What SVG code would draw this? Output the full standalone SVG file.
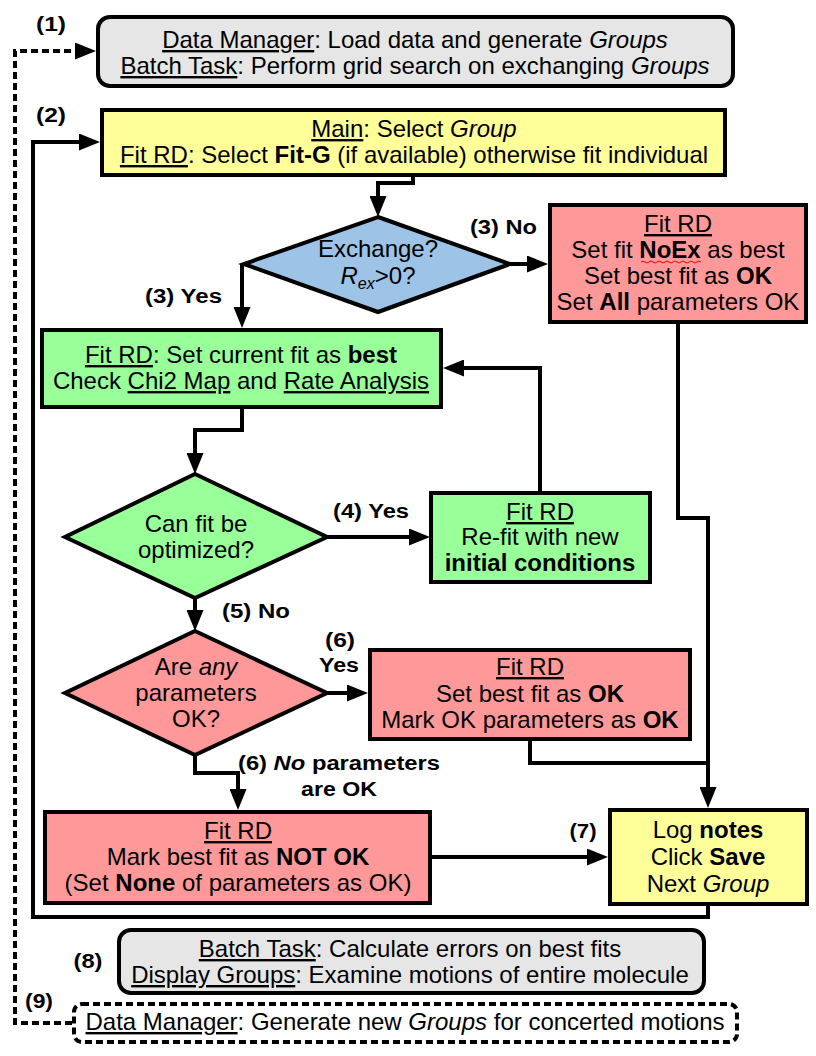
<svg xmlns="http://www.w3.org/2000/svg" width="816" height="1056" viewBox="0 0 816 1056">
<style>
text{font-family:"Liberation Sans",Arial,sans-serif;font-size:24px;fill:#000}
.c{text-anchor:middle}
.lbl{font-weight:bold;font-size:20px}
.u{text-decoration:underline}
.b{font-weight:bold}
.i{font-style:italic}
.box{stroke:#000;stroke-width:4}
.gray{fill:#e6e6e6}
.yel{fill:#ffff99}
.blue{fill:#9dc3e6}
.grn{fill:#99ff99}
.red{fill:#ff9999}
.ln{fill:none;stroke:#000;stroke-width:4;stroke-linejoin:miter}
.dash{stroke-dasharray:7,4}
</style>
<defs>
<marker id="ah" markerUnits="userSpaceOnUse" markerWidth="21" markerHeight="17" refX="15" refY="8.5" orient="auto">
<path d="M0,0 L21,8.5 L0,17 z" fill="#000"/>
</marker>
</defs>
<rect width="816" height="1056" fill="#fff"/>

<g id="connectors">
<path class="ln dash" d="M72,1023 L15,1023 L15,51 L90,51" marker-end="url(#ah)"/>
<path class="ln" d="M708,906 L708,917 L33,917 L33,142 L94,142" marker-end="url(#ah)"/>
<path class="ln" d="M413,177 L413,183 L378,183 L378,211" marker-end="url(#ah)"/>
<path class="ln" d="M242,264 L242,322" marker-end="url(#ah)"/>
<path class="ln" d="M510,264 L542,264" marker-end="url(#ah)"/>
<path class="ln" d="M678,324 L678,518 L708,518 L708,802" marker-end="url(#ah)"/>
<path class="ln" d="M242,409 L242,430 L195,430 L195,468" marker-end="url(#ah)"/>
<path class="ln" d="M327,537 L424,537" marker-end="url(#ah)"/>
<path class="ln" d="M540,491 L540,368 L449,368" marker-end="url(#ah)"/>
<path class="ln" d="M195,598 L195,625" marker-end="url(#ah)"/>
<path class="ln" d="M327,693 L362,693" marker-end="url(#ah)"/>
<path class="ln" d="M530,740 L530,763 L708,763"/>
<path class="ln" d="M195,755 L195,773 L238,773 L238,804" marker-end="url(#ah)"/>
<path class="ln" d="M432,857 L602,857" marker-end="url(#ah)"/>
</g>

<g id="labels">
<text class="lbl c" x="51" y="31" textLength="30" lengthAdjust="spacingAndGlyphs">(1)</text>
<text class="lbl c" x="51" y="122" textLength="30" lengthAdjust="spacingAndGlyphs">(2)</text>
<text class="lbl" x="470" y="234" textLength="67" lengthAdjust="spacingAndGlyphs">(3) No</text>
<text class="lbl" x="145" y="303" textLength="77" lengthAdjust="spacingAndGlyphs">(3) Yes</text>
<text class="lbl" x="333" y="518" textLength="76" lengthAdjust="spacingAndGlyphs">(4) Yes</text>
<text class="lbl" x="222" y="618" textLength="68" lengthAdjust="spacingAndGlyphs">(5) No</text>
<text class="lbl c" x="340" y="647" textLength="30" lengthAdjust="spacingAndGlyphs">(6)</text>
<text class="lbl c" x="339" y="672" textLength="40" lengthAdjust="spacingAndGlyphs">Yes</text>
<text class="lbl" x="238" y="770" textLength="202" lengthAdjust="spacingAndGlyphs">(6) <tspan class="i">No</tspan> parameters</text>
<text class="lbl c" x="339" y="796" textLength="76" lengthAdjust="spacingAndGlyphs">are OK</text>
<text class="lbl c" x="583" y="838" textLength="27" lengthAdjust="spacingAndGlyphs">(7)</text>
<text class="lbl c" x="88" y="968" textLength="29" lengthAdjust="spacingAndGlyphs">(8)</text>
<text class="lbl c" x="39" y="1008" textLength="28" lengthAdjust="spacingAndGlyphs">(9)</text>
</g>

<g id="n1">
<rect class="box gray" x="98" y="17" width="635" height="69" rx="12"/>
<text class="c" x="415" y="48"><tspan class="u">Data Manager</tspan>: Load data and generate <tspan class="i">Groups</tspan></text>
<text class="c" x="415" y="74"><tspan class="u">Batch Task</tspan>: Perform grid search on exchanging <tspan class="i">Groups</tspan></text>
</g>

<g id="n2">
<rect class="box yel" x="102" y="110" width="623" height="65"/>
<text class="c" x="414" y="137"><tspan class="u">Main</tspan>: Select <tspan class="i">Group</tspan></text>
<text class="c" x="414" y="163"><tspan class="u">Fit RD</tspan>: Select <tspan class="b">Fit-G</tspan> (if available) otherwise fit individual</text>
</g>

<g id="n3">
<polygon class="box blue" points="378,217 510,264 378,312 244,264"/>
<text class="c" x="378" y="257">Exchange?</text>
<text class="c" x="378" y="284"><tspan class="i">R</tspan><tspan class="i" font-size="16" dy="5">ex</tspan><tspan dy="-5">&gt;0?</tspan></text>
</g>

<g id="n4">
<rect class="box red" x="550" y="205" width="256" height="117"/>
<text class="c" x="678" y="232"><tspan class="u">Fit RD</tspan></text>
<text class="c" x="678" y="258">Set fit <tspan class="b">NoEx</tspan> as best</text>
<path d="M641,262 q2,-2 4,0 t4,0 t4,0 t4,0 t4,0 t4,0 t4,0 t4,0 t4,0 t4,0 t4,0 t4,0 t4,0 t4,0 t4,0" fill="none" stroke="#e00" stroke-width="1"/>
<text class="c" x="678" y="284">Set best fit as <tspan class="b">OK</tspan></text>
<text class="c" x="678" y="310">Set <tspan class="b">All</tspan> parameters OK</text>
</g>

<g id="n5">
<rect class="box grn" x="42" y="330" width="399" height="77"/>
<text class="c" x="241" y="363"><tspan class="u">Fit RD</tspan>: Set current fit as <tspan class="b">best</tspan></text>
<text class="c" x="241" y="389">Check <tspan class="u">Chi2 Map</tspan> and <tspan class="u">Rate Analysis</tspan></text>
</g>

<g id="n6">
<polygon class="box grn" points="195,474 327,537 195,598 65,537"/>
<text class="c" x="196" y="532">Can fit be</text>
<text class="c" x="196" y="558">optimized?</text>
</g>

<g id="n7">
<rect class="box grn" x="431" y="493" width="219" height="89"/>
<text class="c" x="540" y="520"><tspan class="u">Fit RD</tspan></text>
<text class="c" x="540" y="545">Re-fit with new</text>
<text class="c b" x="540" y="571">initial conditions</text>
</g>

<g id="n8">
<polygon class="box red" points="195,631 327,693 195,755 65,693"/>
<text class="c" x="196" y="675">Are <tspan class="i">any</tspan></text>
<text class="c" x="196" y="701">parameters</text>
<text class="c" x="196" y="727">OK?</text>
</g>

<g id="n9">
<rect class="box red" x="370" y="650" width="320" height="89"/>
<text class="c" x="530" y="675"><tspan class="u">Fit RD</tspan></text>
<text class="c" x="530" y="702">Set best fit as <tspan class="b">OK</tspan></text>
<text class="c" x="530" y="728">Mark OK parameters as <tspan class="b">OK</tspan></text>
</g>

<g id="n10">
<rect class="box red" x="45" y="812" width="385" height="91"/>
<text class="c" x="238" y="839"><tspan class="u">Fit RD</tspan></text>
<text class="c" x="238" y="865">Mark best fit as <tspan class="b">NOT OK</tspan></text>
<text class="c" x="238" y="891">(Set <tspan class="b">None</tspan> of parameters as OK)</text>
</g>

<g id="n11">
<rect class="box yel" x="610" y="810" width="197" height="94"/>
<text class="c" x="708" y="838">Log <tspan class="b">notes</tspan></text>
<text class="c" x="708" y="865">Click <tspan class="b">Save</tspan></text>
<text class="c" x="708" y="892">Next <tspan class="i">Group</tspan></text>
</g>

<g id="n12">
<rect class="box gray" x="119" y="930" width="585" height="63" rx="12"/>
<text class="c" x="410" y="957"><tspan class="u">Batch Task</tspan>: Calculate errors on best fits</text>
<text class="c" x="410" y="983"><tspan class="u">Display Groups</tspan>: Examine motions of entire molecule</text>
</g>

<g id="n13">
<rect class="box dash" x="74" y="1004" width="663" height="38" rx="8" fill="#fff"/>
<text class="c" x="405" y="1030"><tspan class="u">Data Manager</tspan>: Generate new <tspan class="i">Groups</tspan> for concerted motions</text>
</g>
</svg>
